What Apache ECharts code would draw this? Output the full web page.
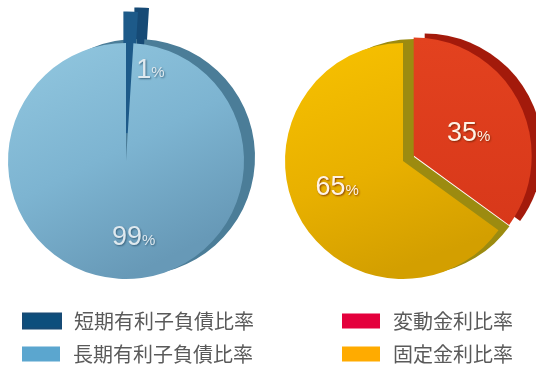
<!DOCTYPE html>
<html>
<head>
<meta charset="utf-8">
<script src="https://cdn.jsdelivr.net/npm/echarts@6/dist/echarts.min.js"></script>
<style>
  html, body { margin: 0; padding: 0; background: #fff; }
  #chart { width: 536px; height: 367px; }
</style>
</head>
<body>
<div id="chart"></div>
<script>
// Debt structure (left) and interest-rate structure (right), in percent
const debtNames = ['短期有利子負債比率', '長期有利子負債比率'];
const debtValues = [1, 99];
const rateNames = ['変動金利比率', '固定金利比率'];
const rateValues = [35, 65];

// Colours: top face, side (depth) and legend swatch
const debtFace = [
  '#1d5a89',
  new echarts.graphic.LinearGradient(0, 0, 0.5, 1, [
    { offset: 0, color: '#93c8e0' },
    { offset: 0.55, color: '#7db4d1' },
    { offset: 1, color: '#6799b7' }
  ])
];
const debtSide = ['#164a75', '#4b7d98'];
const debtLegend = ['#0c4e7c', '#5ba6cf'];

const rateFace = [
  new echarts.graphic.LinearGradient(0, 0, 0, 1, [
    { offset: 0, color: '#e3421f' },
    { offset: 1, color: '#d8381a' }
  ]),
  new echarts.graphic.LinearGradient(0, 0, 0.4, 1, [
    { offset: 0, color: '#f8c200' },
    { offset: 0.6, color: '#e8b000' },
    { offset: 1, color: '#d39f00' }
  ])
];
const rateSide = ['#a31a0b', '#9c8b10'];
const rateLegend = ['#e4003c', '#ffab00'];

const R = 118;
const debtCenter = [126, 161];
const rateCenter = [403, 161];
const depth = [11, -4];

// the thin short-term slice gets a matching outline so its face and side read as one block
function sliceStyle(color, i, thin) {
  const s = { color: color };
  if (thin && i === 0) {
    s.borderColor = color;
    s.borderWidth = 7;
    s.borderJoin = 'miter';
  }
  return s;
}

function pieLayer(center, names, values, colors, selectedIdx, offset, z, thin) {
  return {
    type: 'pie',
    center: center,
    radius: [0, R],
    startAngle: 90,
    clockwise: true,
    selectedMode: 'multiple',
    selectedOffset: offset,
    silent: true,
    z: z,
    label: { show: false },
    labelLine: { show: false },
    emphasis: { disabled: true },
    data: names.map((n, i) => ({
      name: n,
      value: values[i],
      selected: i === selectedIdx,
      itemStyle: sliceStyle(colors[i], i, thin)
    }))
  };
}

const labelRich = (color, shadow) => ({
  n: { fontFamily: 'Liberation Sans, Arial, sans-serif', fontSize: 27, color: color,
       textShadowColor: shadow, textShadowBlur: 2, textShadowOffsetX: 1, textShadowOffsetY: 1 },
  p: { fontFamily: 'Liberation Sans, Arial, sans-serif', fontSize: 15, color: color, padding: [6, 0, 0, 0],
       textShadowColor: shadow, textShadowBlur: 2, textShadowOffsetX: 1, textShadowOffsetY: 1 }
});

function labelLayer(center, names, values, rich, paddings) {
  return {
    type: 'pie',
    center: center,
    radius: [0, R * 1.2],
    startAngle: 90,
    clockwise: true,
    silent: true,
    z: 10,
    itemStyle: { color: 'rgba(0,0,0,0)' },
    labelLine: { show: false },
    emphasis: { disabled: true },
    label: {
      show: true,
      position: 'inside',
      formatter: '{n|{c}}{p|%}',
      rich: rich
    },
    data: names.map((n, i) => ({
      name: n,
      value: values[i],
      itemStyle: { color: 'rgba(0,0,0,0)' },
      label: { padding: paddings[i] }
    }))
  };
}

const shift = (c) => [c[0] + depth[0], c[1] + depth[1]];

const legendText = {
  fontFamily: 'Noto Sans CJK JP, sans-serif',
  fontSize: 20,
  lineHeight: 20,
  color: '#5a5a5a',
  padding: [0, 0, 0, 8]
};

// one legend entry per row/column slot
function legendEntry(name, color, left, top) {
  return {
    left: left,
    top: top,
    padding: 0,
    itemWidth: 38,
    itemHeight: 15,
    icon: 'rect',
    selectedMode: false,
    textStyle: legendText,
    data: [{ name: name, itemStyle: { color: color } }]
  };
}

const legendTops = [311, 344];

const option = {
  animation: false,
  backgroundColor: '#ffffff',
  legend: [
    ...debtNames.map((n, i) => legendEntry(n, debtLegend[i], 22, legendTops[i])),
    ...rateNames.map((n, i) => legendEntry(n, rateLegend[i], 342, legendTops[i]))
  ],
  series: [
    pieLayer(shift(debtCenter), debtNames, debtValues, debtSide, 0, 28, 1, true),
    pieLayer(debtCenter, debtNames, debtValues, debtFace, 0, 28, 2, true),
    labelLayer(debtCenter, debtNames, debtValues,
      labelRich('#dfe9ef', 'rgba(40,80,105,0.8)'),
      [[0, 0, 34, 44], [6, 0, 0, 20]]),
    pieLayer(shift(rateCenter), rateNames, rateValues, rateSide, 0, 12, 1, false),
    pieLayer(rateCenter, rateNames, rateValues, rateFace, 0, 12, 2, false),
    labelLayer(rateCenter, rateNames, rateValues,
      labelRich('#fff3e6', 'rgba(110,30,0,0.8)'),
      [[12, 0, 0, 0], [0, 0, 14, 0]])
  ]
};

echarts.init(document.getElementById('chart')).setOption(option);
</script>
</body>
</html>
